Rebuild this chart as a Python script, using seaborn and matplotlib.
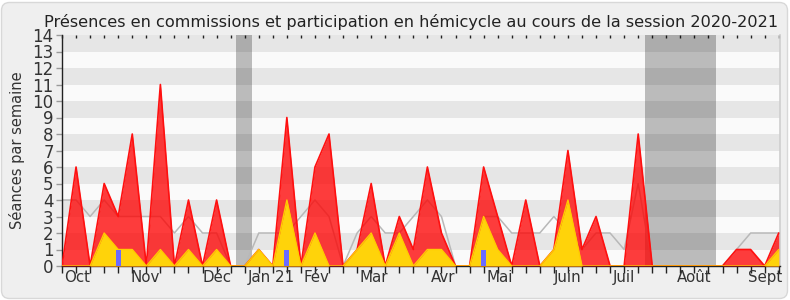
import numpy as np
import pandas as pd
import matplotlib
matplotlib.use("Agg")
import matplotlib.pyplot as plt
import matplotlib.patches as mpatches
import matplotlib.transforms as mtransforms
import seaborn as sns

# ---- data (one value per week, session 2020-2021) ----
weeks = list(range(52))
commissions = [0, 6, 0, 5, 3, 8, 0, 11, 0, 4, 0, 4, 0, 0, 1, 0, 9, 0, 6, 8,
               0, 1, 5, 0, 3, 1, 6, 2, 0, 0, 6, 3, 0, 4, 0, 1, 7, 1, 3, 0,
               0, 8, 0, 0, 0, 0, 0, 0, 1, 1, 0, 2]
hemicycle = [0, 0, 0, 2, 1, 1, 0, 1, 0, 1, 0, 1, 0, 0, 1, 0, 4, 0, 2, 0,
             0, 1, 2, 0, 2, 0, 1, 1, 0, 0, 3, 1, 0, 0, 0, 1, 4, 0, 0, 0,
             0, 0, 0, 0, 0, 0, 0, 0, 0, 0, 0, 1]
mediane = [4, 4, 3, 4, 3, 3, 3, 3, 2, 3, 2, 2, 0, 0, 2, 2, 2, 3, 4, 3,
           0, 2, 3, 2, 2, 3, 4, 3, 0, 0, 3, 3, 2, 2, 2, 3, 2, 1, 2, 2,
           1, 5, 0, 0, 0, 0, 0, 0, 1, 2, 2, 2]
interventions_weeks = [4, 16, 30]
interventions = [1, 1, 1]
vacances = [(12.4, 13.5), (41.5, 46.55)]
month_labels = ["Oct", "Nov", "Déc", "Jan 21", "Fév", "Mar", "Avr", "Mai",
                "Juin", "Juil", "Août", "Sept"]
month_pos = [1.1, 5.95, 11.0, 14.9, 18.1, 22.2, 27.1, 31.15, 35.95, 40.0,
             45.0, 50.0]

df = pd.DataFrame({"semaine": weeks, "commissions": commissions,
                   "hemicycle": hemicycle, "mediane": mediane})

sns.set_theme(style="white")
plt.rcParams["font.family"] = ["DejaVu Sans"]

W, H = 790, 300
fig = plt.figure(figsize=(W / 100, H / 100), dpi=100, facecolor="white")
bg = mpatches.FancyBboxPatch((1.5, 1.5), W - 4, H - 4,
                             boxstyle="round,pad=0,rounding_size=8",
                             transform=mtransforms.IdentityTransform(),
                             facecolor="#efefef", edgecolor="#d8d8d8", lw=1,
                             zorder=-10)
fig.patches.append(bg)

L, R, T, B = 62, 780, 35, 266
ax = fig.add_axes([L / W, 1 - B / H, (R - L) / W, (B - T) / H])
ax.set_facecolor("#fafafa")
for y0 in range(1, 14, 2):
    ax.axhspan(y0, y0 + 1, color="#e6e6e6", lw=0, zorder=0)
for a, b in vacances:
    ax.axvspan(a, b, color="black", alpha=0.25, lw=0, zorder=1)

sns.lineplot(data=df, x="semaine", y="mediane", color="#b8b8b8", lw=1.1,
             ax=ax, zorder=2)
ax.fill_between(df["semaine"], df["commissions"], color="#ff0000",
                alpha=0.76, lw=0, zorder=3)
sns.lineplot(data=df, x="semaine", y="commissions", color="#ff1010", lw=1.2,
             ax=ax, zorder=3.5)
ax.fill_between(df["semaine"], df["hemicycle"], color="#ffd30a", lw=0,
                zorder=4)
sns.lineplot(data=df, x="semaine", y="hemicycle", color="#ffcc00", lw=1.0,
             ax=ax, zorder=4.5)
ax.bar(interventions_weeks, interventions, width=0.36, color="#6b6bff",
       lw=0, zorder=5)

ax.xaxis.remove_overlapping_locs = False
ax.set_xlim(0, 51.09)
ax.set_ylim(0, 14)
ax.set_yticks(range(0, 15))
ax.set_xticks(weeks)
ax.set_xticklabels([])
ax.set_xticks(month_pos, minor=True)
ax.set_xticklabels(month_labels, minor=True)
ax.tick_params(axis="x", which="major", direction="out", length=5,
               width=1, color="#222222", bottom=True)
ax.tick_params(axis="x", which="minor", length=0, pad=3, labelsize=10.8,
               labelcolor="#333333")
ax.tick_params(axis="y", direction="out", length=4, width=1,
               color="#999999", left=True, pad=2, labelsize=12,
               labelcolor="#333333")
top = ax.secondary_xaxis("top")
top.set_xticks(weeks)
top.set_xticklabels([])
top.tick_params(direction="in", length=2, width=1, color="#222222")
top.spines["top"].set_visible(False)

for s in ["left", "bottom"]:
    ax.spines[s].set_color("#222222")
    ax.spines[s].set_linewidth(1)
ax.spines["top"].set_visible(False)
ax.spines["right"].set_color("#d0d0d0")
ax.set_xlabel("")
ax.set_ylabel("Séances par semaine", fontsize=10.5, color="#333333",
              labelpad=5)

fig.text(411 / W, 1 - 27 / H,
         "Présences en commissions et participation en hémicycle au cours de la session 2020-2021",
         ha="center", va="baseline", fontsize=11.6, color="#222222")

fig.savefig("out.png", dpi=100, facecolor="white")
